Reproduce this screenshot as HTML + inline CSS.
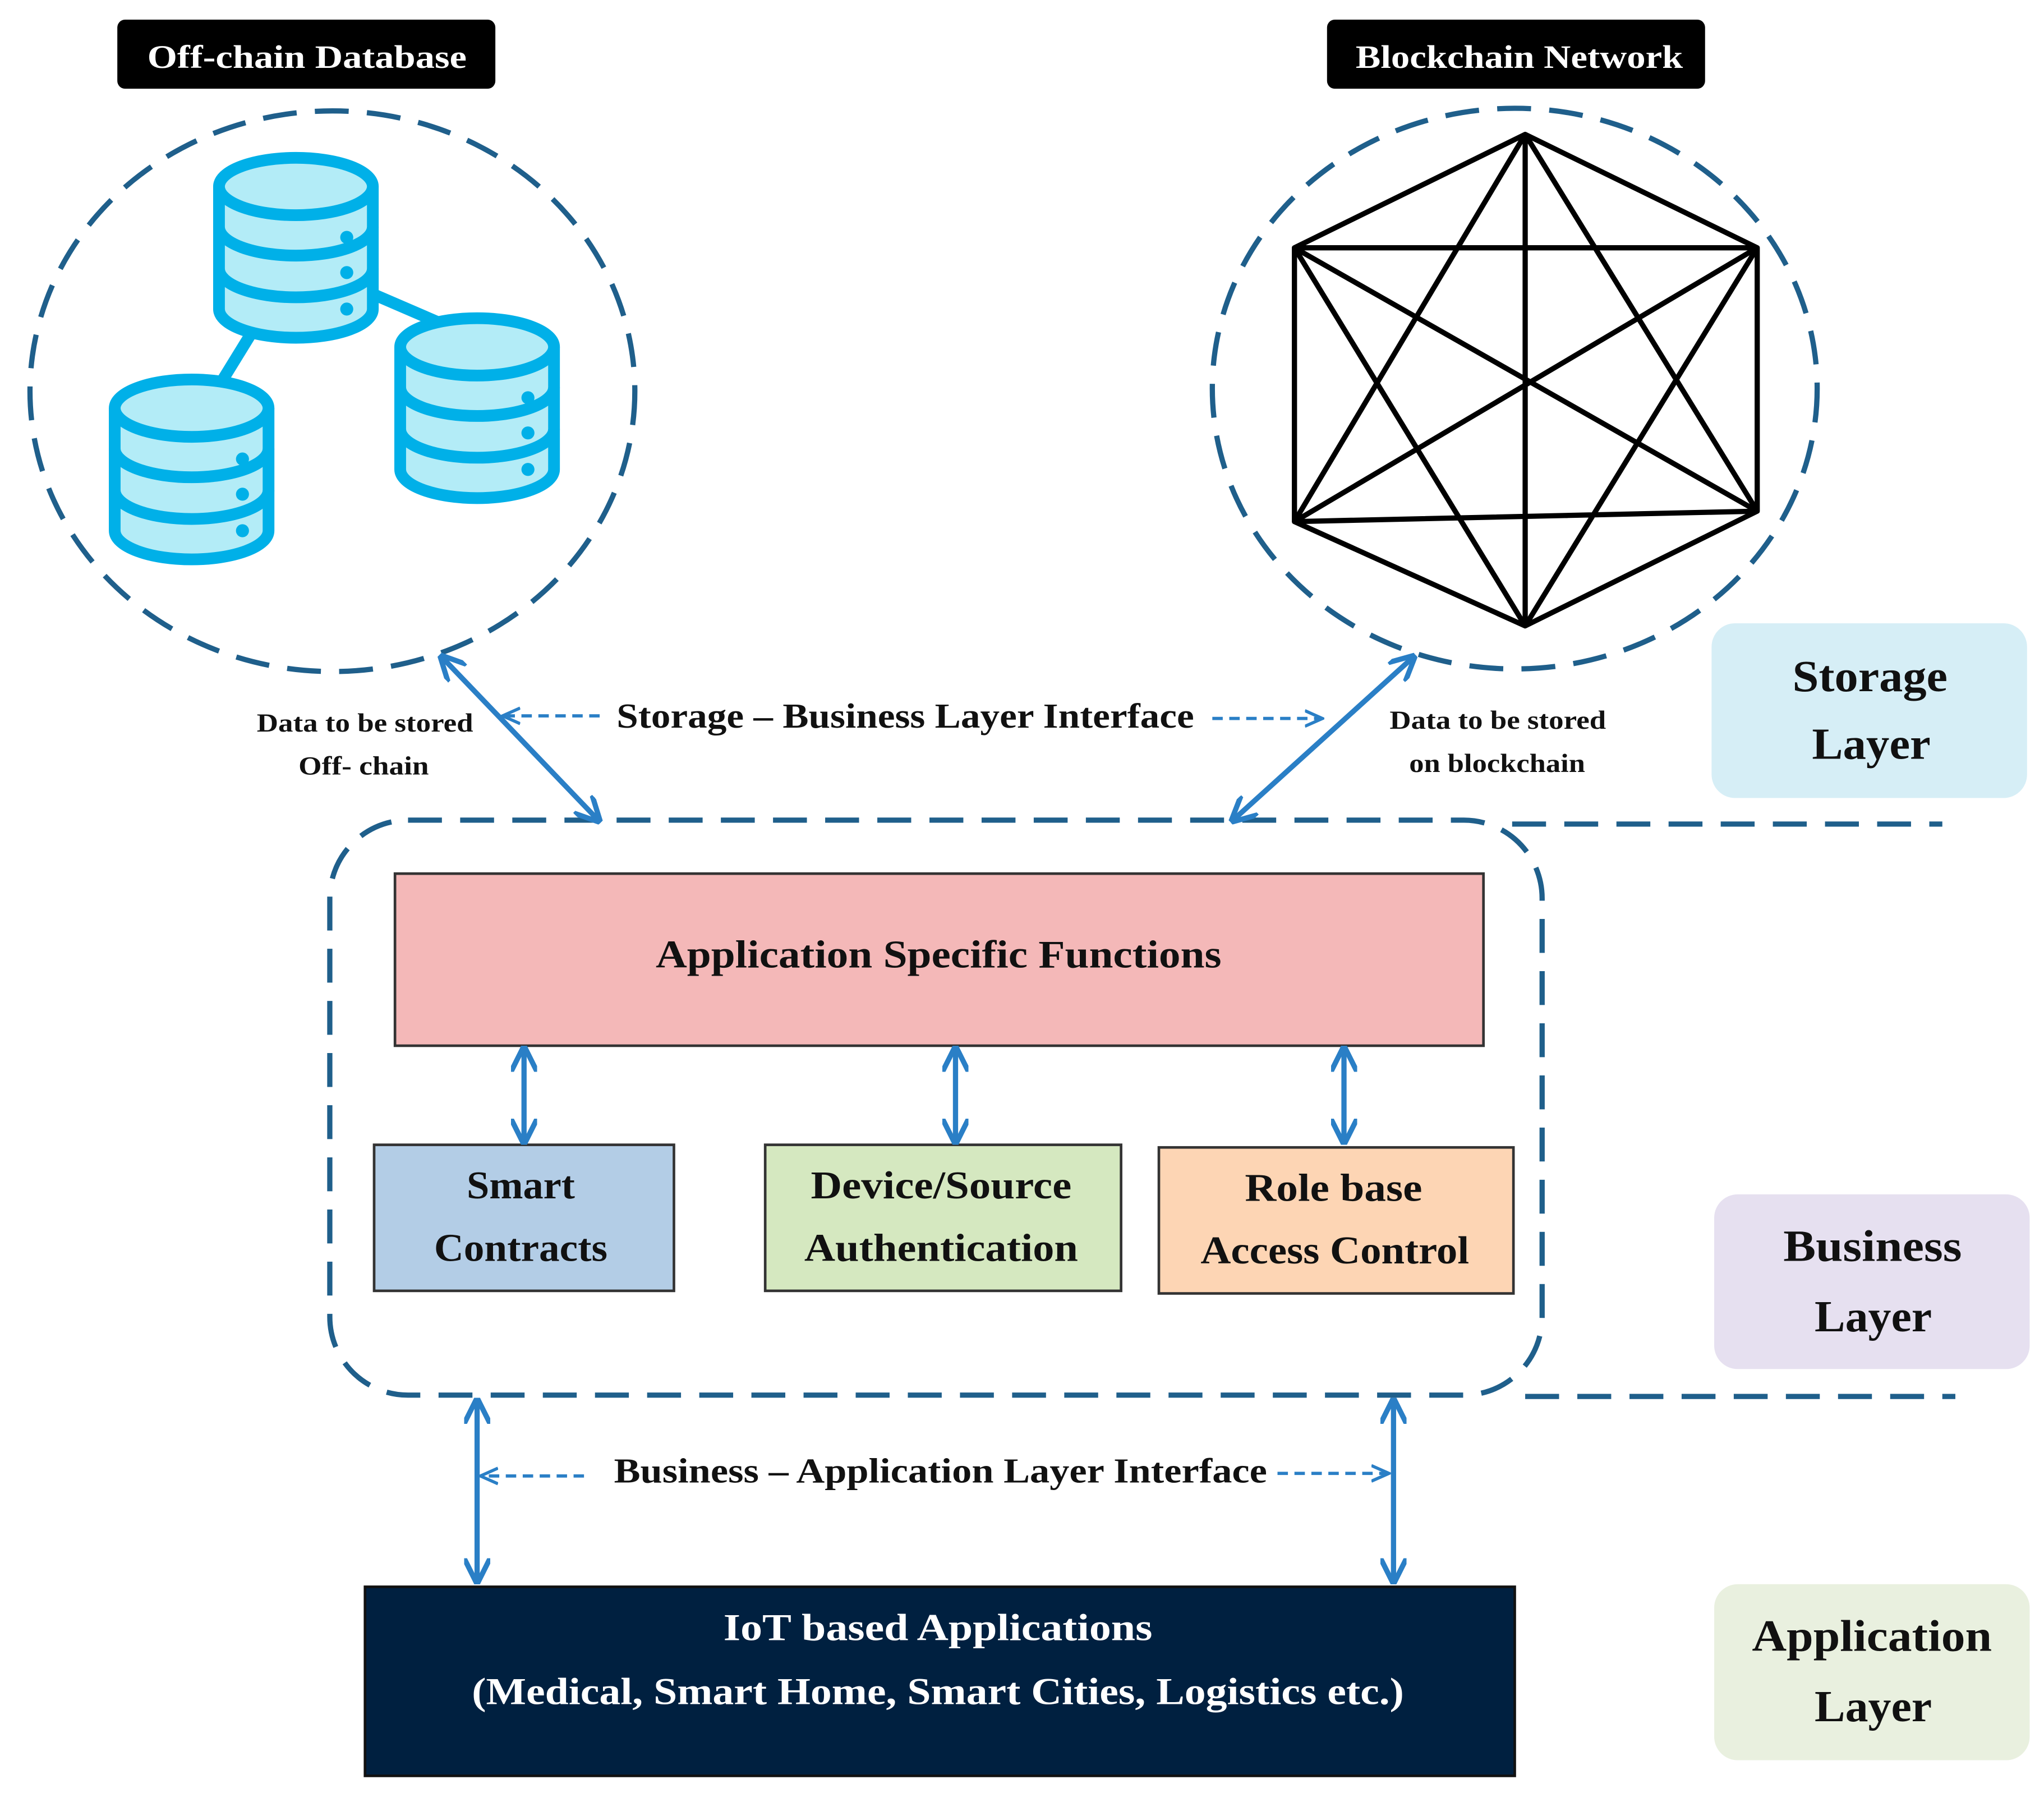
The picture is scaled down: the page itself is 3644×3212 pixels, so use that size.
<!DOCTYPE html>
<html><head><meta charset="utf-8"><style>
html,body{margin:0;padding:0;background:#fff;}
svg{display:block;}
text{font-family:"Liberation Serif",serif;}
</style></head><body>
<svg width="3644" height="3212" viewBox="0 0 1568 1382" xmlns="http://www.w3.org/2000/svg">
<defs>
<marker id="ah" viewBox="0 0 10 10" refX="8" refY="5" markerWidth="5" markerHeight="5" orient="auto-start-reverse"><path d="M0,0 L10,5 L0,10" fill="none" stroke="#2a7fc6" stroke-width="2"/></marker>
<marker id="ah2" viewBox="0 0 10 10" refX="8" refY="5" markerWidth="6" markerHeight="6" orient="auto-start-reverse"><path d="M0,1 L9,5 L0,9" fill="none" stroke="#2a7fc6" stroke-width="1.6"/></marker>
</defs>
<rect width="1568" height="1382" fill="#fff"/>
<rect x="90" y="15" width="290" height="53" rx="6" fill="#000"/>
<text x="113" y="52" font-size="25" fill="#fff" font-weight="bold" textLength="245" lengthAdjust="spacingAndGlyphs">Off-chain Database</text>
<rect x="1018" y="15" width="290" height="53" rx="6" fill="#000"/>
<text x="1040" y="52" font-size="25" fill="#fff" font-weight="bold" textLength="251" lengthAdjust="spacingAndGlyphs">Blockchain Network</text>
<g fill="none" stroke="#1f5f8b" stroke-width="4" stroke-dasharray="26,14">
<ellipse cx="255" cy="300" rx="232" ry="215"/>
<ellipse cx="1162" cy="298" rx="232" ry="215"/>
</g>
<g stroke="#000" stroke-width="4" fill="none" stroke-linejoin="round">
<path d="M1170,103 L1348,190 L1348,392 L1170,480 L993,400 L993,190 Z"/>
<path d="M1170,103 L1170,480 M1170,103 L1348,392 M1170,103 L993,400 M1348,190 L993,190 M1348,190 L1170,480 M1348,190 L993,400 M1348,392 L993,400 M1348,392 L993,190 M1170,480 L993,190"/>
</g>
<g stroke="#00b0e8" stroke-width="9" fill="#b3ecf7">
<line x1="227" y1="200" x2="366" y2="260"/>
<line x1="227" y1="200" x2="147" y2="330"/>
</g>
<g id="db" stroke="#00b0e8" stroke-width="9" fill="#b3ecf7">
<path d="M168,143 L168,237 A59,22 0 0 0 286,237 L286,143"/>
<ellipse cx="227" cy="143" rx="59" ry="22"/>
<path d="M168,174 A59,22 0 0 0 286,174 M168,206 A59,22 0 0 0 286,206" fill="none"/>
<g fill="#00b0e8" stroke="none"><circle cx="266" cy="182" r="5"/><circle cx="266" cy="209" r="5"/><circle cx="266" cy="237" r="5"/></g>
</g>
<use href="#db" x="-80" y="170"/>
<use href="#db" x="139" y="123"/>
<g font-size="34" font-weight="bold" fill="#111" lengthAdjust="spacingAndGlyphs">
<rect x="1313" y="478" width="242" height="134" rx="18" fill="#d6eef6"/>
<text x="1375" y="530" textLength="119" lengthAdjust="spacingAndGlyphs">Storage</text>
<text x="1390" y="582" textLength="91" lengthAdjust="spacingAndGlyphs">Layer</text>
<rect x="1315" y="916" width="242" height="134" rx="18" fill="#e6e0f0"/>
<text x="1368" y="967" textLength="137" lengthAdjust="spacingAndGlyphs">Business</text>
<text x="1392" y="1021" textLength="90" lengthAdjust="spacingAndGlyphs">Layer</text>
<rect x="1315" y="1215" width="242" height="135" rx="18" fill="#e9f0df"/>
<text x="1344" y="1266" textLength="184" lengthAdjust="spacingAndGlyphs">Application</text>
<text x="1392" y="1320" textLength="90" lengthAdjust="spacingAndGlyphs">Layer</text>
</g>
<g fill="none" stroke="#1f5f8b" stroke-width="4" stroke-dasharray="26,14">
<rect x="253" y="629" width="930" height="441" rx="60"/>
<line x1="1160" y1="632" x2="1490" y2="632"/>
<line x1="1170" y1="1071" x2="1500" y2="1071"/>
</g>
<g font-size="30" font-weight="bold" fill="#111">
<rect x="303" y="670" width="835" height="132" fill="#f4b8b8" stroke="#333" stroke-width="2"/>
<text x="503" y="742" textLength="434" lengthAdjust="spacingAndGlyphs">Application  Specific Functions</text>
<rect x="287" y="878" width="230" height="112" fill="#b3cde6" stroke="#333" stroke-width="2"/>
<text x="358" y="919" textLength="83" lengthAdjust="spacingAndGlyphs">Smart</text>
<text x="333" y="967" textLength="133" lengthAdjust="spacingAndGlyphs">Contracts</text>
<rect x="587" y="878" width="273" height="112" fill="#d5e8c0" stroke="#333" stroke-width="2"/>
<text x="622" y="919" textLength="200" lengthAdjust="spacingAndGlyphs">Device/Source</text>
<text x="617" y="967" textLength="210" lengthAdjust="spacingAndGlyphs">Authentication</text>
<rect x="889" y="880" width="272" height="112" fill="#fdd5b4" stroke="#333" stroke-width="2"/>
<text x="955" y="921" textLength="136" lengthAdjust="spacingAndGlyphs">Role base</text>
<text x="921" y="969" textLength="206" lengthAdjust="spacingAndGlyphs">Access Control</text>
</g>
<g stroke="#2a7fc6" stroke-width="4" fill="none" marker-start="url(#ah)" marker-end="url(#ah)">
<line x1="402" y1="806" x2="402" y2="874"/>
<line x1="733" y1="806" x2="733" y2="874"/>
<line x1="1031" y1="806" x2="1031" y2="874"/>
<line x1="340" y1="505" x2="458" y2="628"/>
<line x1="1083" y1="505" x2="947" y2="628"/>
<line x1="366" y1="1076" x2="366" y2="1211"/>
<line x1="1069" y1="1076" x2="1069" y2="1211"/>
</g>
<g stroke="#2a7fc6" stroke-width="2.5" fill="none" stroke-dasharray="8,5">
<line x1="460" y1="549" x2="387" y2="549" marker-end="url(#ah2)"/>
<line x1="930" y1="551" x2="1013" y2="551" marker-end="url(#ah2)"/>
<line x1="448" y1="1132" x2="370" y2="1132" marker-end="url(#ah2)"/>
<line x1="980" y1="1130" x2="1064" y2="1130" marker-end="url(#ah2)"/>
</g>
<text x="473" y="558" font-size="27" fill="#111" font-weight="bold" textLength="443" lengthAdjust="spacingAndGlyphs">Storage – Business Layer Interface</text>
<text x="471" y="1137" font-size="27" fill="#111" font-weight="bold" textLength="501" lengthAdjust="spacingAndGlyphs">Business – Application Layer Interface</text>
<g font-size="20" fill="#111" font-weight="bold">
<text x="197" y="561" textLength="166" lengthAdjust="spacingAndGlyphs">Data to be stored</text>
<text x="229" y="594" textLength="100" lengthAdjust="spacingAndGlyphs">Off- chain</text>
<text x="1066" y="559" textLength="166" lengthAdjust="spacingAndGlyphs">Data to be stored</text>
<text x="1081" y="592" textLength="135" lengthAdjust="spacingAndGlyphs">on blockchain</text>
</g>
<rect x="280" y="1217" width="882" height="145" fill="#002040" stroke="#111" stroke-width="2"/>
<text x="555" y="1258" font-size="29" fill="#fff" font-weight="bold" textLength="329" lengthAdjust="spacingAndGlyphs">IoT based Applications</text>
<text x="362" y="1307" font-size="29" fill="#fff" font-weight="bold" textLength="715" lengthAdjust="spacingAndGlyphs">(Medical, Smart Home, Smart Cities, Logistics etc.)</text>
</svg>
</body></html>
